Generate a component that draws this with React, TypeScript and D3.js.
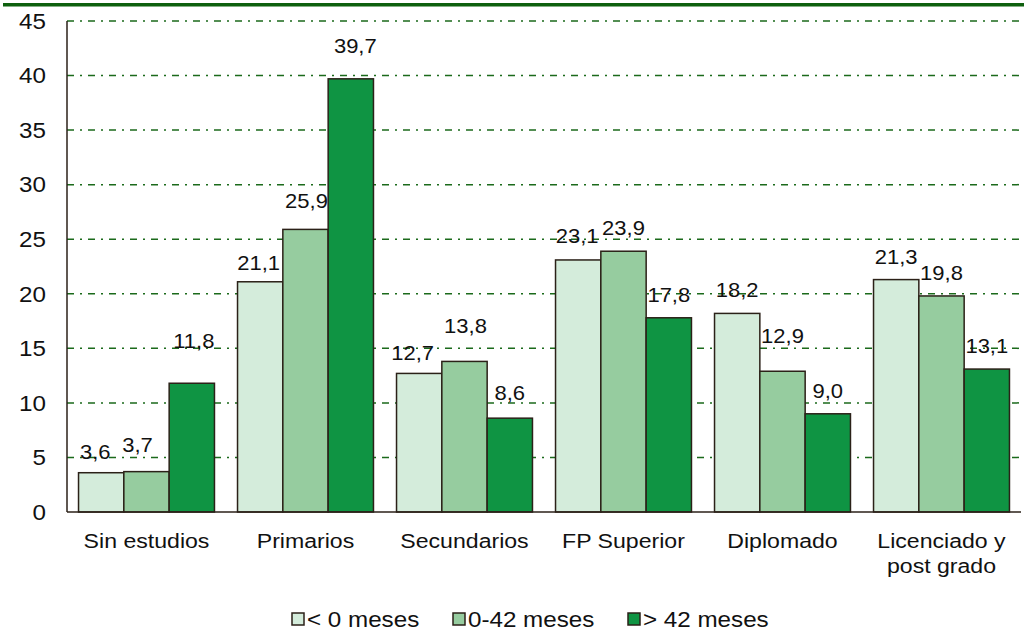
import React from "react";
import * as d3 from "d3";

const categories = ["Sin estudios", "Primarios", "Secundarios", "FP Superior", "Diplomado", "Licenciado y\npost grado"];
const seriesNames = ["< 0 meses", "0-42 meses", "> 42 meses"];
const valuesLt0 = [3.6, 21.1, 12.7, 23.1, 18.2, 21.3];
const values0to42 = [3.7, 25.9, 13.8, 23.9, 12.9, 19.8];
const valuesGt42 = [11.8, 39.7, 8.6, 17.8, 9.0, 13.1];
const yTicks = [0, 5, 10, 15, 20, 25, 30, 35, 40, 45];

// layout-only nudges for the hand-placed data labels [dx, dy] per series, per category
const labelNudge = [
  [[-6, 2], [-1.5, 4], [-6.5, 2.5], [-1, -1], [0, 0], [0, 0]],
  [[-9, -3.5], [1, -5.5], [1, -12.5], [0, 0], [0, -12], [0, 0]],
  [[2, -19], [4.5, -10], [0, -2], [0, 0], [0, 0], [0, 0]],
];

const colors = ["#d4ecdb", "#96cc9f", "#0f9443"];
const W = 1024;
const H = 631;
const left = 67;
const right = 1021;
const top = 21;
const bottom = 512;
const SX = 1.1;
const FONT = "'Liberation Sans', Arial, sans-serif";

export default function App() {
  const seriesValues = [valuesLt0, values0to42, valuesGt42];
  const x0 = d3.scaleBand<string>().domain(categories).range([left, right]).padding(0);
  const bw = x0.bandwidth();
  const x1 = d3.scaleBand<string>().domain(seriesNames).range([bw * 0.0725, bw * 0.9275]).padding(0);
  const y = d3.scaleLinear().domain([0, 45]).range([bottom, top]);
  const fmt = (v: number) => v.toFixed(1).replace(".", ",");
  const legendX = [292, 453, 628];

  return (
    <svg width={W} height={H} style={{ position: "absolute", left: 0, top: 0, background: "#fff" }} fontFamily={FONT}>
      <rect x={3} y={3} width={W - 3} height={3.5} fill="#0e600e" />
      {yTicks.filter((t) => t > 0).map((t) => (
        <line key={"g" + t} x1={left} x2={right} y1={y(t)} y2={y(t)} stroke="#1b6a1b" strokeWidth={1.5} strokeDasharray="7 6 2 6" />
      ))}
      {yTicks.map((t) => (
        <text key={"t" + t} transform={`translate(46,${y(t) + 7.8}) scale(${SX},1)`} textAnchor="end" fontSize={22} fill="#111">
          {t}
        </text>
      ))}
      {seriesValues.map((vals, si) =>
        vals.map((v, ci) => (
          <rect
            key={`b${si}-${ci}`}
            x={(x0(categories[ci]) as number) + (x1(seriesNames[si]) as number)}
            y={y(v)}
            width={x1.bandwidth()}
            height={y(0) - y(v)}
            fill={colors[si]}
            stroke="#2b2118"
            strokeWidth={1.5}
          />
        ))
      )}
      <line x1={left} x2={left} y1={top} y2={bottom} stroke="#2b2118" strokeWidth={1.5} />
      <line x1={left} x2={right} y1={bottom} y2={bottom} stroke="#2b2118" strokeWidth={1.5} />
      {seriesValues.map((vals, si) =>
        vals.map((v, ci) => {
          const cx = (x0(categories[ci]) as number) + (x1(seriesNames[si]) as number) + x1.bandwidth() / 2 + labelNudge[si][ci][0];
          const cy = y(v) - 16 + labelNudge[si][ci][1];
          return (
            <text key={`l${si}-${ci}`} transform={`translate(${cx},${cy}) scale(${SX},1)`} textAnchor="middle" fontSize={20} fill="#111">
              {fmt(v)}
            </text>
          );
        })
      )}
      {categories.map((c) => {
        const cx = (x0(c) as number) + bw / 2;
        return c.split("\n").map((line, li) => (
          <text key={c + li} transform={`translate(${cx},${548 + li * 24.5}) scale(${SX},1)`} textAnchor="middle" fontSize={21} fill="#111">
            {line}
          </text>
        ));
      })}
      {seriesNames.map((s, si) => (
        <g key={"lg" + s}>
          <rect x={legendX[si]} y={613} width={12} height={12} fill={colors[si]} stroke="#2b2118" strokeWidth={1.5} />
          <text transform={`translate(${legendX[si] + 15},627) scale(${SX},1)`} fontSize={22} fill="#111">
            {s}
          </text>
        </g>
      ))}
    </svg>
  );
}
